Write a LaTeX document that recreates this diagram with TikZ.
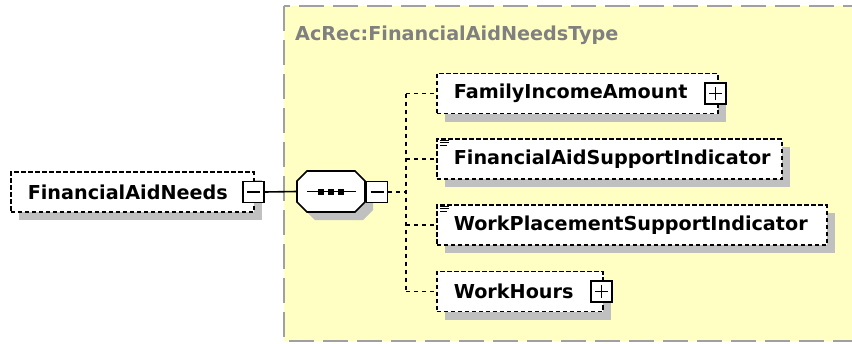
\documentclass[tikz,border=0pt]{standalone}
\usepackage{fontspec}
\setmainfont{DejaVu Sans}
\usetikzlibrary{shadows}

\definecolor{typefill}{RGB}{255,255,196}
\definecolor{typeborder}{RGB}{160,160,160}
\definecolor{typetitle}{RGB}{128,128,128}
\definecolor{boxshadow}{RGB}{192,192,192}

\newcommand{\elemfont}{\fontsize{19.2}{23}\selectfont\bfseries}
% octagon of the sequence compositor, from its top left corner
\newcommand{\octagonpath}[2]{(#1+10,#2) -- (#1+58,#2) -- (#1+68,#2+10) -- (#1+68,#2+31) -- (#1+58,#2+41) -- (#1+10,#2+41) -- (#1,#2+31) -- (#1,#2+10) -- cycle}

\tikzset{
	shade/.style={drop shadow={shadow xshift=8pt, shadow yshift=-8pt, fill=boxshadow, opacity=1}},
	elem/.style={draw, dash pattern=on 4.5pt off 2.5pt, line width=1.6pt, fill=white, shade,
		anchor=west, minimum height=40pt, inner xsep=17pt, inner ysep=0pt, align=left, font=\elemfont},
	btn/.style={draw, line width=1.6pt, fill=white, minimum size=21pt, inner sep=0pt},
	minus/.style={btn, path picture={\draw[line width=1.6pt] ([xshift=4pt]path picture bounding box.west) -- ([xshift=-4pt]path picture bounding box.east);}},
	plus/.style={btn, path picture={\draw[line width=1.6pt] ([xshift=4pt]path picture bounding box.west) -- ([xshift=-4pt]path picture bounding box.east)
		([yshift=-4pt]path picture bounding box.north) -- ([yshift=4pt]path picture bounding box.south);}},
	link/.style={line width=1.6pt, dash pattern=on 4pt off 4pt},
	wire/.style={line width=1.6pt}
}

\begin{document}
\begin{tikzpicture}[x=1pt, y=-1pt]
	\useasboundingbox (0,0) rectangle (852,343);
	% complex type area
	\draw[typeborder, fill=typefill, line width=1.6pt, dash pattern=on 25pt off 9pt] (284,6) rectangle (870,341);
	\node[anchor=west, inner sep=0pt, text=typetitle, font=\elemfont] (title) at (295,35) {AcRec:FinancialAidNeedsType};

	% elements
	\node[elem, text width=209pt] (root) at (10,192) {FinancialAidNeeds};
	\node[minus] (rootbtn) at ([xshift=-1pt]root.east) {};

	\fill[boxshadow] \octagonpath{305}{179};
	\draw[wire, fill=white] \octagonpath{297}{171};
	\node[minimum width=68pt, minimum height=41pt, inner sep=0pt] (seq) at (331,191.5) {};
	\node[minus] (seqbtn) at (377,192) {};
	\coordinate (jn) at (406,192);

	\node[elem, text width=247pt] (fia) at (436,93.5) {FamilyIncomeAmount};
	\node[plus] (fiabtn) at ([xshift=-3pt]fia.east) {};
	\node[elem, text width=311pt] (fasi) at (436,159) {FinancialAidSupportIndicator};
	\node[elem, text width=356pt] (wpsi) at (436,225) {WorkPlacementSupportIndicator};
	\node[elem, text width=132pt] (wh) at (436,291.5) {WorkHours};
	\node[plus] (whbtn) at ([xshift=-2pt]wh.east) {};

	% simple content marks
	\foreach \el in {fasi, wpsi} {
		\draw[line width=0.9pt] ([xshift=4pt, yshift=-2pt]\el.north west) -- ++(9pt,0)
			([xshift=4pt, yshift=-4.5pt]\el.north west) -- ++(9pt,0)
			([xshift=4pt, yshift=-7pt]\el.north west) -- ++(7pt,0);
	}

	% sequence symbol
	\draw[wire] ([xshift=-24pt]seq.center) -- ([xshift=25pt]seq.center);
	\foreach \dx in {-10,0,10}
		\fill ([xshift=\dx pt]seq.center) +(-3,-3) rectangle +(3,3);

	% connectors
	\draw[wire] (rootbtn.east) -- (seq.west);
	\draw[link] (seqbtn.east) -- (jn);
	\draw[link] (jn |- fia.west) -- (jn |- wh.west);
	\foreach \el in {fia, fasi, wpsi, wh}
		\draw[link] (jn |- \el.west) -- (\el.west);
\end{tikzpicture}
\end{document}
